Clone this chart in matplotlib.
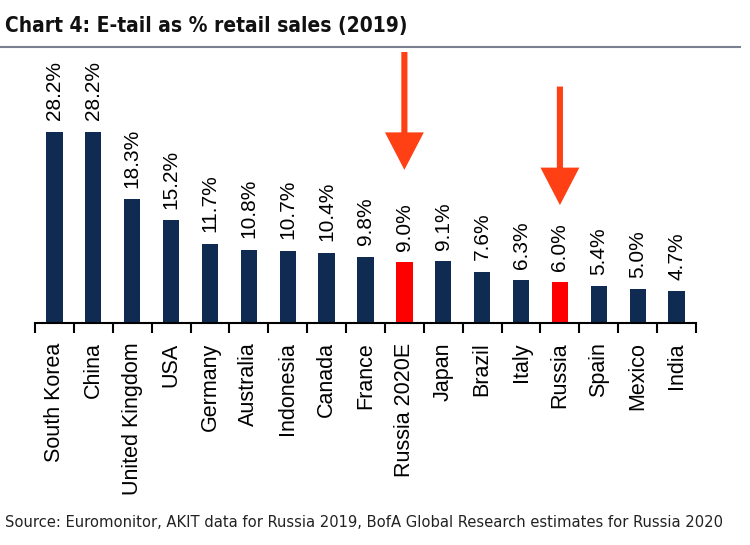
import numpy as np
import matplotlib.pyplot as plt

countries = ['South Korea', 'China', 'United Kingdom', 'USA', 'Germany', 'Australia',
             'Indonesia', 'Canada', 'France', 'Russia 2020E', 'Japan', 'Brazil',
             'Italy', 'Russia', 'Spain', 'Mexico', 'India']
values = [28.2, 28.2, 18.3, 15.2, 11.7, 10.8, 10.7, 10.4, 9.8, 9.0, 9.1, 7.6,
          6.3, 6.0, 5.4, 5.0, 4.7]
highlight = ['Russia 2020E', 'Russia']

navy = '#0f2b52'
red = '#ff0000'
arrow_col = '#ff4015'

fig = plt.figure(figsize=(7.5, 5.45), dpi=100)
ax = fig.add_axes([35 / 750, (545 - 323) / 545, 661 / 750, 271 / 545])

x = np.arange(len(countries))
colors = [red if c in highlight else navy for c in countries]
ax.bar(x, values, width=0.42, color=colors)

for xi, v in zip(x, values):
    ax.text(xi, v + 1.7, '%.1f%%' % v, rotation=90, ha='center', va='bottom',
            fontsize=15, family=['Liberation Sans', 'DejaVu Sans'])

ax.set_xlim(-0.5, len(countries) - 0.5)
ax.set_ylim(0, 40)
ax.set_yticks([])
for s in ['top', 'right', 'left']:
    ax.spines[s].set_visible(False)
ax.spines['bottom'].set_linewidth(1.5)

ax.set_xticks(np.arange(len(countries) + 1) - 0.5, minor=False)
ax.set_xticklabels([])
ax.tick_params(axis='x', which='major', direction='out', length=7, width=1.5)
ax.set_xticks(x, minor=True)
ax.set_xticklabels(countries, minor=True, rotation=90, va='top', ha='center',
                   fontsize=15.5, family=['Liberation Sans', 'DejaVu Sans'])
ax.tick_params(axis='x', which='minor', length=0, pad=14)

# arrows pointing at the two Russia bars
for name, top, tip in [('Russia 2020E', 40, 22.6), ('Russia', 34.9, 17.4)]:
    i = countries.index(name)
    ax.annotate('', xy=(i, tip), xytext=(i, top), annotation_clip=False,
                arrowprops=dict(arrowstyle='simple,head_length=1.35,head_width=1.4,tail_width=0.22',
                                mutation_scale=20, color=arrow_col, lw=0,
                                shrinkA=0, shrinkB=0))

fig.text(5 / 750, 1 - 32 / 545, 'Chart 4: E-tail as % retail sales (2019)',
         fontsize=15, fontweight='bold', fontstretch='condensed', va='baseline', ha='left',
         family='DejaVu Sans', color='#111111')
fig.add_artist(plt.Line2D([0, 740 / 750], [1 - 47 / 545, 1 - 47 / 545],
                          color='#7a8090', lw=1.5))
fig.text(5 / 750, 1 - 527 / 545,
         'Source: Euromonitor, AKIT data for Russia 2019, BofA Global Research estimates for Russia 2020',
         fontsize=11.8, fontstretch='condensed', va='baseline', ha='left',
         family='DejaVu Sans', color='#222222')

fig.savefig('out.png', dpi=100)
